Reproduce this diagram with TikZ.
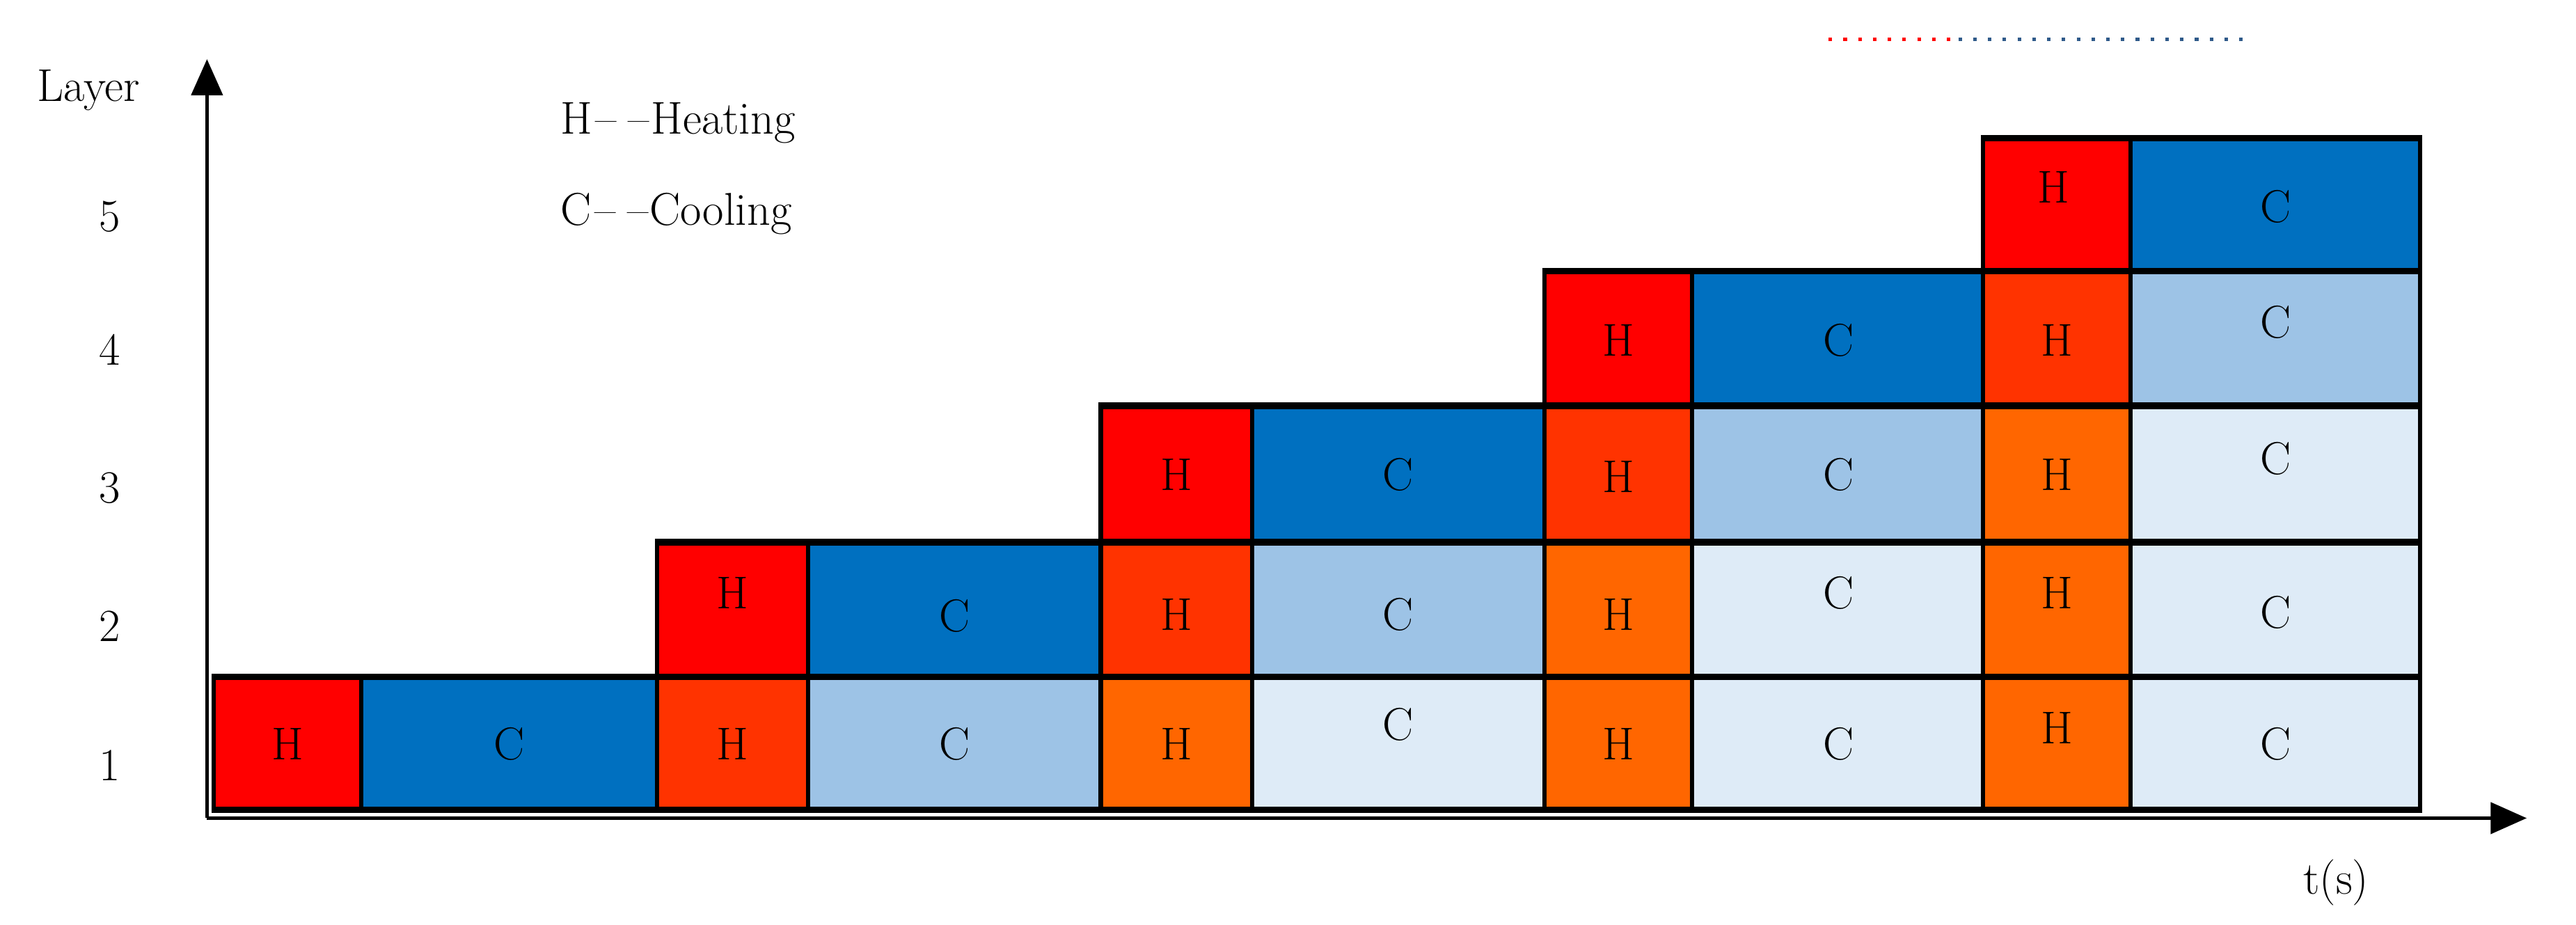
\documentclass[tikz,border=0pt]{standalone}
\usetikzlibrary{arrows.meta}
\definecolor{hot0}{HTML}{FF0000}
\definecolor{hot1}{HTML}{FF3300}
\definecolor{hot2}{HTML}{FF6600}
\definecolor{cold0}{HTML}{0070C0}
\definecolor{cold1}{HTML}{9DC3E6}
\definecolor{cold2}{HTML}{DEEBF7}
\definecolor{dotblue}{HTML}{2F5A8A}
\begin{document}
\begin{tikzpicture}[x=1pt,y=-1pt,
  cell/.style={draw=black,line width=2.6pt},
  hline/.style={draw=black,line width=4pt},
  lbl/.style={font=\fontsize{28}{32}\selectfont,inner sep=0pt},
  axis/.style={draw=black,line width=2.2pt,-{Triangle[length=22pt,width=19pt]}},
  dots/.style={line width=2.2pt,dash pattern=on 2.2pt off 6.8pt}]
\useasboundingbox (0,0) rectangle (1568,563);
% cells
\foreach \g/\xa/\xb/\xc in {1/130/220/400, 2/400/492/670, 3/670/762/940, 4/940/1030/1207, 5/1207/1297/1473} {
  \foreach \r/\ya/\yb in {1/412/493, 2/330/412, 3/247/330, 4/165/247, 5/84/165} {
    \ifnum\r>\g\relax\else
      \pgfmathtruncatemacro{\age}{min(\g-\r,2)}
      \path[cell,fill=hot\age] (\xa,\ya) rectangle (\xb,\yb);
      \path[cell,fill=cold\age] (\xb,\ya) rectangle (\xc,\yb);
    \fi
  }
}
% thicker horizontal borders
\foreach \g/\xa/\xc in {1/130/400, 2/400/670, 3/670/940, 4/940/1207, 5/1207/1473} {
  \foreach \r/\ya/\yb in {1/412/493, 2/330/412, 3/247/330, 4/165/247, 5/84/165} {
    \ifnum\r>\g\relax\else
      \draw[hline] (\xa-1.3,\ya) -- (\xc+1.3,\ya);
      \draw[hline] (\xa-1.3,\yb) -- (\xc+1.3,\yb);
    \fi
  }
}
% cell labels
\node[lbl] (h11) at (175,453) {H};
\node[lbl] (c11) at (310,453) {C};
\node[lbl] (h21) at (446,453) {H};
\node[lbl] (c21) at (581,453) {C};
\node[lbl] (h31) at (716,453) {H};
\node[lbl] (c31) at (851,441) {C};
\node[lbl] (h41) at (985,453) {H};
\node[lbl] (c41) at (1119,453) {C};
\node[lbl] (h51) at (1252,443) {H};
\node[lbl] (c51) at (1385,453) {C};
\node[lbl] (h22) at (446,361) {H};
\node[lbl] (c22) at (581,375) {C};
\node[lbl] (h32) at (716,374) {H};
\node[lbl] (c32) at (851,374) {C};
\node[lbl] (h42) at (985,374) {H};
\node[lbl] (c42) at (1119,361) {C};
\node[lbl] (h52) at (1252,361) {H};
\node[lbl] (c52) at (1385,373) {C};
\node[lbl] (h33) at (716,289) {H};
\node[lbl] (c33) at (851,289) {C};
\node[lbl] (h43) at (985,290) {H};
\node[lbl] (c43) at (1119,289) {C};
\node[lbl] (h53) at (1252,289) {H};
\node[lbl] (c53) at (1385,279) {C};
\node[lbl] (h44) at (985,207) {H};
\node[lbl] (c44) at (1119,207) {C};
\node[lbl] (h54) at (1252,207) {H};
\node[lbl] (c54) at (1385,196) {C};
\node[lbl] (h55) at (1250,114) {H};
\node[lbl] (c55) at (1385,126) {C};
% axes
\coordinate (origin) at (126,498);
\coordinate (ytip) at (126,36);
\coordinate (xtip) at (1538,498);
\draw[axis] (origin) -- (ytip);
\draw[axis] (origin) -- (xtip);
\node[lbl] (ylab) at (54,55) {Layer};
\node[lbl] (xlab) at (1422,537) {t(s)};
\node[lbl] (n5) at (67,132) {5};
\node[lbl] (n4) at (67,213) {4};
\node[lbl] (n3) at (67,297) {3};
\node[lbl] (n2) at (67,381) {2};
\node[lbl] (n1) at (67,466) {1};
% legend
\node[lbl,anchor=west] (legH) at (341,75) {H\kern2pt--\kern7pt--\kern1pt Heating};
\node[lbl,anchor=west] (legC) at (341,130) {C\kern2pt--\kern7pt--\kern1pt Cooling};
% dotted line at top
\coordinate (d0) at (1113,24);
\coordinate (d1) at (1192,24);
\coordinate (d2) at (1366,24);
\draw[dots,draw=hot0] (d0) -- (d1);
\draw[dots,draw=dotblue] (d1) -- (d2);
\end{tikzpicture}
\end{document}
